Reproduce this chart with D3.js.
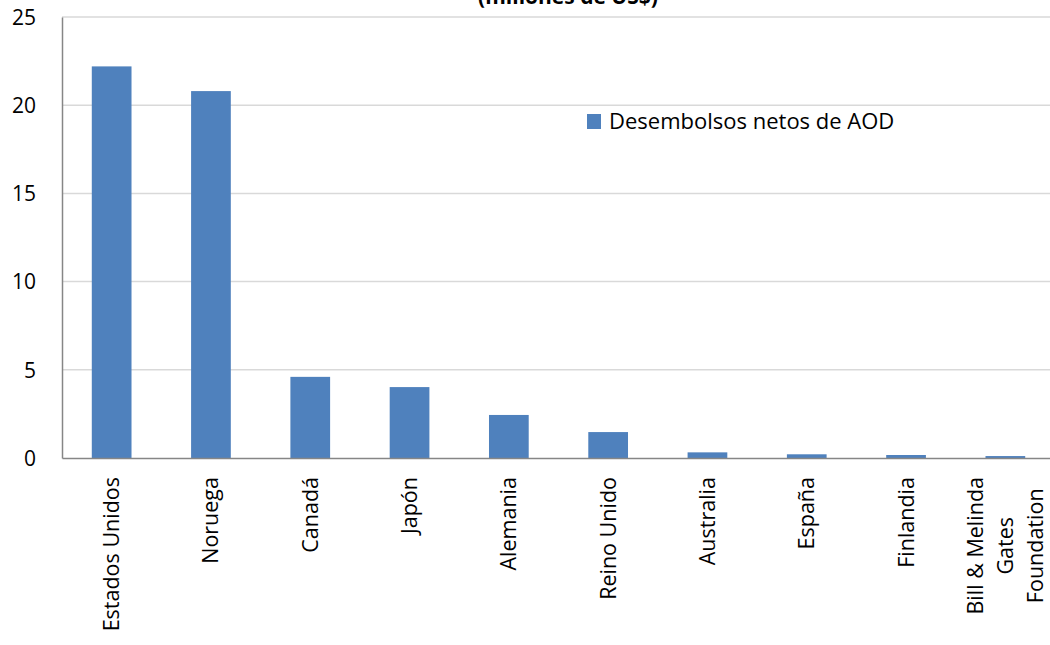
<!DOCTYPE html>
<meta charset="utf-8">
<script src="https://d3js.org/d3.v7.min.js"></script>
<style>
body { margin: 0; background: #fff; }
text { font-family: "Open Sans", "Noto Sans", sans-serif; fill: #000; }
</style>
<div id="chart"></div>
<script>
// data
var paises = ["Estados Unidos", "Noruega", "Canadá", "Japón", "Alemania", "Reino Unido",
              "Australia", "España", "Finlandia", "Bill & Melinda Gates Foundation"];
var lineas = {"Bill & Melinda Gates Foundation": ["Bill & Melinda", "Gates", "Foundation"]};
var desembolsos = [22.2, 20.8, 4.6, 4.02, 2.44, 1.47, 0.32, 0.21, 0.17, 0.11];
var yTicks = [0, 5, 10, 15, 20, 25];
var serie = "Desembolsos netos de AOD";
var titulo = "(millones de US$)";

var W = 1050, H = 645;
var plotLeft = 62, plotTop = 17, plotBottom = 458;

var svg = d3.select("#chart").append("svg")
  .attr("width", W).attr("height", H);

var x = d3.scaleBand()
  .domain(paises)
  .range([plotLeft, 1055])
  .paddingInner(0.6)
  .paddingOuter(0.3);

var y = d3.scaleLinear()
  .domain([0, 25])
  .range([plotBottom, plotTop]);

// grid lines
svg.append("g").selectAll("line")
  .data(yTicks.filter(function(d){ return d > 0; }))
  .enter().append("line")
    .attr("x1", plotLeft).attr("x2", W)
    .attr("y1", function(d){ return y(d); })
    .attr("y2", function(d){ return y(d); })
    .attr("stroke", "#d9d9d9").attr("stroke-width", 1.5);

// y axis
var yAxis = svg.append("g")
  .attr("transform", "translate(" + plotLeft + ",0)")
  .call(d3.axisLeft(y).tickValues(yTicks).tickSize(0).tickPadding(26));
yAxis.select(".domain").attr("stroke", "#868686").attr("stroke-width", 1.5);
yAxis.selectAll("text").style("font-size", "21px").attr("dy", "0.35em");

// bars
svg.append("g").selectAll("rect")
  .data(desembolsos)
  .enter().append("rect")
    .attr("x", function(d, i){ return x(paises[i]); })
    .attr("width", x.bandwidth())
    .attr("y", function(d){ return y(d); })
    .attr("height", function(d){ return y(0) - y(d); })
    .attr("fill", "#4f81bd");

// x axis
var xAxis = svg.append("g")
  .attr("transform", "translate(0," + plotBottom + ")")
  .call(d3.axisBottom(x).tickSize(0).tickFormat(""));
xAxis.select(".domain").attr("stroke", "#868686").attr("stroke-width", 1.5);

// rotated category labels
var labelTop = 19;
xAxis.selectAll(".tick").each(function(name) {
  var g = d3.select(this).append("g").attr("transform", "rotate(-90)");
  var ls = lineas[name] || [name];
  var texts = ls.map(function(l, k) {
    return g.append("text")
      .style("font-size", "21.5px")
      .attr("dy", "0.35em")
      .attr("y", (k - (ls.length - 1) / 2) * 30)
      .text(l);
  });
  var maxLen = d3.max(texts, function(t){ return t.node().getComputedTextLength(); });
  texts.forEach(function(t) {
    t.attr("text-anchor", "middle").attr("x", -(labelTop + maxLen / 2));
  });
});

// legend
var leg = svg.append("g").attr("transform", "translate(587,114)");
leg.append("rect").attr("width", 14).attr("height", 15).attr("fill", "#4f81bd");
leg.append("text").attr("x", 22).attr("y", 7.5).attr("dy", "0.35em")
  .style("font-size", "22px").text(serie);

// title (top line is cut off in the original)
svg.append("text")
  .attr("x", 568).attr("y", 4)
  .attr("text-anchor", "middle")
  .style("font-size", "21px").style("font-weight", "bold")
  .text(titulo);
</script>
